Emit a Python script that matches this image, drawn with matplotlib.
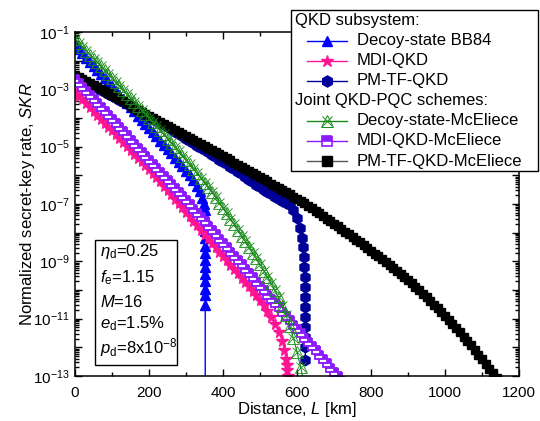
import numpy as np
import matplotlib
matplotlib.use('Agg')
import matplotlib.pyplot as plt
from matplotlib.lines import Line2D
from matplotlib.patches import Rectangle
from matplotlib.ticker import LogLocator, FuncFormatter, MultipleLocator, NullFormatter

plt.rcParams['font.family'] = ['Liberation Sans', 'DejaVu Sans']
plt.rcParams['mathtext.fontset'] = 'custom'
plt.rcParams['mathtext.rm'] = 'Liberation Sans'
plt.rcParams['mathtext.it'] = 'Liberation Sans:italic'
plt.rcParams['mathtext.bf'] = 'Liberation Sans:bold'

# distance in km, log10 of the normalized SKR
bb84_km = [0, 10, 20, 30, 40, 50, 60, 70, 80, 90, 100, 110, 120, 130, 140, 150, 160, 170, 180,
           190, 200, 210, 220, 230, 240, 250, 260, 270, 280, 290, 300, 310, 320, 330, 338, 344,
           348, 350, 350.3, 350.6, 350.8, 351, 351.2, 351.4, 351.5, 351.6, 351.7, 351.8, 351.9,
           352, 352, 352]
bb84_log = [-1.45, -1.60, -1.74, -1.89, -2.03, -2.18, -2.32, -2.47, -2.61, -2.76, -2.90, -3.05,
            -3.19, -3.34, -3.48, -3.63, -3.77, -3.92, -4.06, -4.21, -4.35, -4.50, -4.64, -4.79,
            -4.93, -5.08, -5.23, -5.38, -5.53, -5.68, -5.84, -6.00, -6.17, -6.36, -6.55, -6.78,
            -7.00, -7.22, -7.45, -7.70, -7.95, -8.20, -8.45, -8.70, -8.95, -9.20, -9.45, -9.70,
            -9.95, -10.17, -10.52, -20]

mdi_km = [0, 10, 20, 30, 40, 50, 60, 70, 80, 90, 100, 110, 120, 130, 140, 150, 160, 170, 180,
          190, 200, 210, 220, 230, 240, 250, 260, 270, 280, 290, 300, 310, 320, 330, 340, 350,
          360, 370, 380, 390, 400, 410, 420, 430, 440, 450, 460, 470, 480, 490, 500, 510, 520,
          530, 540, 550, 560, 566, 570, 572, 574, 575, 576]
mdi_log = [-3.08, -3.22, -3.35, -3.49, -3.62, -3.76, -3.89, -4.03, -4.16, -4.30, -4.43, -4.57,
           -4.70, -4.84, -4.97, -5.11, -5.24, -5.38, -5.51, -5.65, -5.79, -5.93, -6.07, -6.21,
           -6.36, -6.51, -6.66, -6.81, -6.96, -7.11, -7.27, -7.42, -7.58, -7.73, -7.89, -8.04,
           -8.20, -8.35, -8.51, -8.66, -8.82, -8.97, -9.12, -9.27, -9.42, -9.57, -9.72, -9.87,
           -10.03, -10.19, -10.36, -10.54, -10.73, -10.94, -11.17, -11.45, -11.78, -12.1, -12.4,
           -12.6, -12.8, -13.0, -14]

tf_km = [0, 10, 20, 30, 40, 50, 60, 70, 80, 90, 100, 110, 120, 130, 140, 150, 160, 170, 180,
         190, 200, 210, 220, 230, 240, 250, 260, 270, 280, 290, 300, 310, 320, 330, 340, 350,
         360, 370, 380, 390, 400, 410, 420, 430, 440, 450, 460, 470, 480, 490, 500, 510, 520,
         530, 540, 550, 560, 570, 580, 590, 600, 608, 614, 617, 619, 620, 620.5, 621, 621.3,
         621.6, 621.8, 622, 622.2, 622.4, 622.5]
tf_log = [-2.52, -2.59, -2.66, -2.73, -2.80, -2.88, -2.95, -3.02, -3.09, -3.16, -3.23, -3.30,
          -3.37, -3.45, -3.52, -3.59, -3.66, -3.74, -3.81, -3.88, -3.95, -4.03, -4.10, -4.18,
          -4.25, -4.33, -4.40, -4.48, -4.56, -4.64, -4.72, -4.80, -4.88, -4.96, -5.04, -5.12,
          -5.20, -5.29, -5.37, -5.46, -5.54, -5.62, -5.70, -5.79, -5.87, -5.96, -6.05, -6.15,
          -6.24, -6.33, -6.42, -6.50, -6.58, -6.66, -6.74, -6.81, -6.88, -6.95, -7.02, -7.2,
          -7.5, -7.84, -8.2, -8.5, -8.85, -9.2, -9.55, -9.9, -10.25, -10.6, -10.95, -11.3,
          -11.65, -12.0, -12.44]

dmc_km = [0, 10, 20, 30, 40, 50, 60, 70, 80, 90, 100, 110, 120, 130, 140, 150, 160, 170, 180,
          190, 200, 210, 220, 230, 240, 250, 260, 270, 280, 290, 300, 310, 320, 330, 340, 350,
          360, 370, 380, 390, 400, 410, 420, 430, 440, 450, 460, 470, 480, 490, 500, 510, 520,
          530, 540, 550, 560, 570, 580, 590, 600, 610, 620]
dmc_log = [-1.25, -1.39, -1.52, -1.66, -1.79, -1.93, -2.06, -2.20, -2.33, -2.47, -2.60, -2.74,
           -2.88, -3.02, -3.16, -3.30, -3.44, -3.58, -3.72, -3.86, -4.00, -4.14, -4.28, -4.43,
           -4.57, -4.72, -4.86, -5.01, -5.16, -5.31, -5.46, -5.61, -5.77, -5.93, -6.09, -6.25,
           -6.42, -6.59, -6.77, -6.95, -7.14, -7.33, -7.52, -7.71, -7.91, -8.10, -8.30, -8.50,
           -8.70, -8.90, -9.11, -9.32, -9.54, -9.77, -10.0, -10.26, -10.55, -10.88, -11.25,
           -11.67, -12.15, -12.7, -13.3]

mmc_km = [0, 10, 20, 30, 40, 50, 60, 70, 80, 90, 100, 110, 120, 130, 140, 150, 160, 170, 180,
          190, 200, 210, 220, 230, 240, 250, 260, 270, 280, 290, 300, 310, 320, 330, 340, 350,
          360, 370, 380, 390, 400, 410, 420, 430, 440, 450, 460, 470, 480, 490, 500, 510, 520,
          530, 540, 550, 560, 570, 580, 590, 600, 610, 620, 630, 640, 650, 660, 670, 680, 690,
          700, 710, 720]
mmc_log = [-2.65, -2.79, -2.93, -3.07, -3.21, -3.35, -3.49, -3.63, -3.77, -3.91, -4.05, -4.19,
           -4.33, -4.47, -4.61, -4.75, -4.89, -5.03, -5.17, -5.31, -5.45, -5.59, -5.73, -5.87,
           -6.01, -6.15, -6.29, -6.43, -6.57, -6.71, -6.86, -7.01, -7.16, -7.31, -7.46, -7.61,
           -7.76, -7.91, -8.06, -8.21, -8.36, -8.51, -8.66, -8.81, -8.96, -9.11, -9.26, -9.41,
           -9.56, -9.71, -9.86, -10.01, -10.16, -10.31, -10.46, -10.61, -10.76, -10.91, -11.06,
           -11.21, -11.36, -11.51, -11.66, -11.81, -11.96, -12.11, -12.26, -12.41, -12.56,
           -12.71, -12.86, -13.01, -13.16]

tmc_km = [0, 10, 20, 30, 40, 50, 60, 70, 80, 90, 100, 110, 120, 130, 140, 150, 160, 170, 180,
          190, 200, 210, 220, 230, 240, 250, 260, 270, 280, 290, 300, 310, 320, 330, 340, 350,
          360, 370, 380, 390, 400, 410, 420, 430, 440, 450, 460, 470, 480, 490, 500, 510, 520,
          530, 540, 550, 560, 570, 580, 590, 600, 610, 620, 630, 640, 650, 660, 670, 680, 690,
          700, 710, 720, 730, 740, 750, 760, 770, 780, 790, 800, 810, 820, 830, 840, 850, 860,
          870, 880, 890, 900, 910, 920, 930, 940, 950, 960, 970, 980, 990, 1000, 1010, 1020,
          1030, 1040, 1050, 1060, 1070, 1080, 1090, 1100, 1110, 1120, 1130, 1140]
tmc_log = [-2.50, -2.57, -2.64, -2.71, -2.78, -2.86, -2.93, -3.00, -3.07, -3.14, -3.21, -3.28,
           -3.35, -3.42, -3.49, -3.57, -3.64, -3.71, -3.78, -3.85, -3.92, -3.99, -4.06, -4.13,
           -4.20, -4.28, -4.35, -4.42, -4.49, -4.56, -4.63, -4.70, -4.77, -4.84, -4.91, -4.99,
           -5.06, -5.13, -5.20, -5.27, -5.34, -5.41, -5.48, -5.56, -5.63, -5.70, -5.77, -5.84,
           -5.91, -5.99, -6.06, -6.14, -6.21, -6.29, -6.36, -6.44, -6.51, -6.59, -6.66, -6.74,
           -6.82, -6.90, -6.98, -7.07, -7.15, -7.24, -7.33, -7.42, -7.51, -7.60, -7.69, -7.78,
           -7.87, -7.96, -8.05, -8.15, -8.24, -8.34, -8.43, -8.53, -8.63, -8.73, -8.83, -8.93,
           -9.03, -9.13, -9.23, -9.34, -9.44, -9.55, -9.66, -9.77, -9.89, -10.01, -10.13,
           -10.25, -10.38, -10.51, -10.64, -10.77, -10.91, -11.05, -11.19, -11.33, -11.48,
           -11.63, -11.78, -11.93, -12.09, -12.25, -12.41, -12.57, -12.74, -12.91, -13.08]

c_bb84 = '#0000ff'
c_mdi = '#ff1493'
c_tf = '#000099'
c_dmc = '#1a8a1a'
c_mmc = '#8c1aff'
c_tmc = '#000000'

W, H = 540, 421
fig = plt.figure(figsize=(W / 100, H / 100), dpi=100)
ax = fig.add_axes([75 / W, 1 - 376 / H, 444 / W, 344 / H])


def sk(v):
    return 10.0 ** np.array(v)


ax.plot(bb84_km, sk(bb84_log), color=c_bb84, lw=1, marker='^', ms=7, mec=c_bb84, mfc=c_bb84)
ax.plot(mdi_km, sk(mdi_log), color=c_mdi, lw=1, marker='*', ms=8.5, mec=c_mdi, mfc=c_mdi)
ax.plot(tf_km, sk(tf_log), color=c_tf, lw=1, marker='h', ms=7.5, mec=c_tf, mfc=c_tf)
ax.plot(tmc_km, sk(tmc_log), color=c_tmc, lw=1, marker='s', ms=6.3, mec=c_tmc, mfc=c_tmc)
ax.plot(mmc_km, sk(mmc_log), color=c_mmc, lw=1, marker='s', ms=6.3, mec=c_mmc, mfc=c_mmc,
        fillstyle='top', markerfacecoloralt='white', mew=1.3)
ax.plot(dmc_km, sk(dmc_log), color=c_dmc, lw=0.8, marker='^', ms=8, mec=c_dmc, mfc='none', mew=0.6)
ax.plot(dmc_km, sk(dmc_log), ls='none', marker='x', ms=7, color=c_dmc, mew=0.6)

ax.set_yscale('log')
ax.set_xlim(0, 1200)
ax.set_ylim(1e-13, 1e-1)
ax.xaxis.set_major_locator(MultipleLocator(200))
ax.xaxis.set_minor_locator(MultipleLocator(100))
ax.yaxis.set_major_locator(LogLocator(base=10, numticks=30))
ax.yaxis.set_minor_locator(LogLocator(base=10, subs=np.arange(2, 10), numticks=30))
ax.yaxis.set_minor_formatter(NullFormatter())


def ylab(v, pos):
    e = int(round(np.log10(v)))
    return r'$10^{%d}$' % e if e % 2 else ''


ax.yaxis.set_major_formatter(FuncFormatter(ylab))
ax.tick_params(which='both', direction='in', top=True, right=True, labelsize=11, width=1)
ax.tick_params(which='major', length=5)
ax.tick_params(which='minor', length=3)
ax.tick_params(axis='x', pad=7)
for s in ax.spines.values():
    s.set_linewidth(1.1)

ax.set_xlabel(r'Distance, $L$ [km]', fontsize=12, labelpad=0)
ax.set_ylabel(r'Normalized secret-key rate, $SKR$', fontsize=12)
ax.yaxis.set_label_coords(-0.086, 0.5)

# parameter box
ax.add_patch(Rectangle((0.045, 0.032), 0.185, 0.363, transform=ax.transAxes,
                       fc='white', ec='black', lw=1, zorder=5))
params = [r'$\eta_{\mathrm{d}}$=0.25', r'$f_{\mathrm{e}}$=1.15', r'$M$=16',
          r'$e_{\mathrm{d}}$=1.5%', r'$p_{\mathrm{d}}$=8x10$^{-8}$']
for i, t in enumerate(params):
    yb = [256, 282, 307, 328, 353][i]
    ax.text(0.056, (376 - yb) / 344, t, transform=ax.transAxes, fontsize=12,
            va='baseline', ha='left', zorder=6)

# legend box drawn by hand (two titled groups)
def fx(p):
    return p / W


def fy(p):
    return 1 - p / H


fig.add_artist(Rectangle((fx(291), fy(171)), fx(538) - fx(291), fy(10) - fy(171),
                         transform=fig.transFigure, fc='white', ec='black', lw=1, zorder=3))
rows = [
    ('QKD subsystem:', None),
    ('Decoy-state BB84', dict(color=c_bb84, marker='^', ms=7, mfc=c_bb84)),
    ('MDI-QKD', dict(color=c_mdi, marker='*', ms=9, mfc=c_mdi)),
    ('PM-TF-QKD', dict(color=c_tf, marker='h', ms=8, mfc=c_tf)),
    ('Joint QKD-PQC schemes:', None),
    ('Decoy-state-McEliece', dict(color=c_dmc, marker='^', ms=8, mfc='none', mew=0.7)),
    ('MDI-QKD-McEliece', dict(color=c_mmc, marker='s', ms=6.5, mfc=c_mmc, fillstyle='top',
                              markerfacecoloralt='white', mew=1.2)),
    ('PM-TF-QKD-McEliece', dict(color='#555555', marker='s', ms=6.5, mfc='black', mec='black')),
]
for i, (label, st) in enumerate(rows):
    yc = 20.7 + 20.05 * i
    if st is None:
        fig.text(fx(295), fy(yc), label, fontsize=12, va='center', ha='left', zorder=5)
        continue
    fig.add_artist(Line2D([fx(307), fx(347)], [fy(yc), fy(yc)], transform=fig.transFigure,
                          lw=1, color=st['color'], zorder=4))
    mk = dict(st)
    mk.pop('color')
    mk.setdefault('mec', st['color'])
    fig.add_artist(Line2D([fx(327)], [fy(yc)], transform=fig.transFigure, ls='none',
                          zorder=5, **mk))
    if label == 'Decoy-state-McEliece':
        fig.add_artist(Line2D([fx(327)], [fy(yc)], transform=fig.transFigure, ls='none',
                              marker='x', ms=7, mew=0.7, color=c_dmc, zorder=5))
    fig.text(fx(357), fy(yc), label, fontsize=12, va='center', ha='left', zorder=5)

fig.savefig('out.png', dpi=100)
